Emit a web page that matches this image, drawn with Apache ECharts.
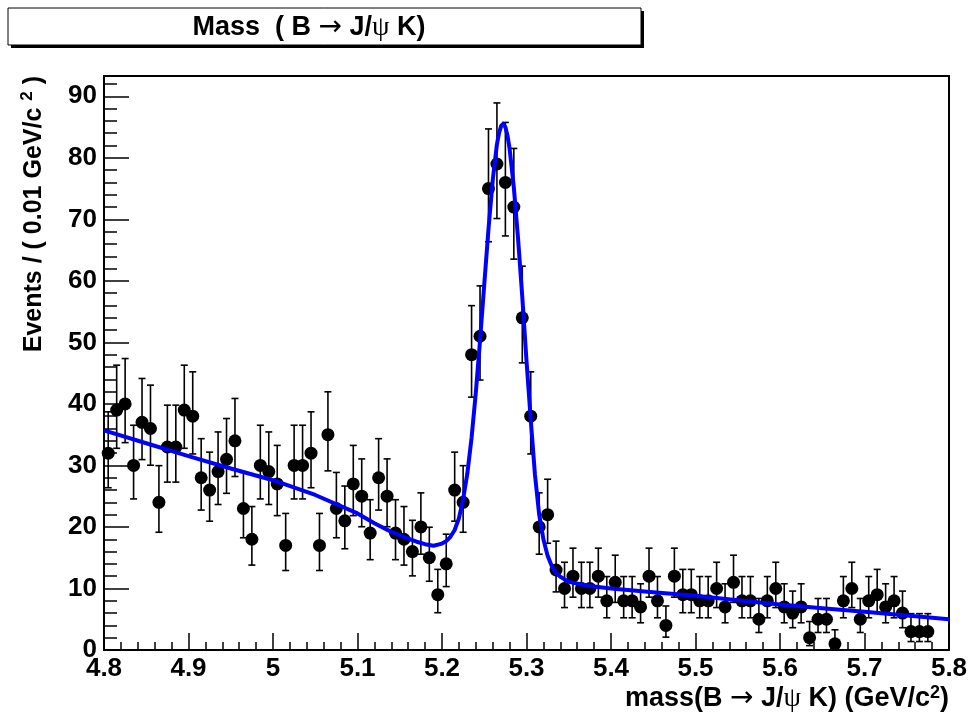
<!DOCTYPE html>
<html><head><meta charset="utf-8">
<script src="https://cdn.jsdelivr.net/npm/echarts@6/dist/echarts.min.js"></script>
<style>html,body{margin:0;padding:0;background:#fff}#c{width:971px;height:717px}</style>
</head><body><div id="c"></div>
<script>
// ---- data ----
const binLow = 4.80;
const binWidth = 0.01;
const counts = [32,39,40,30,37,36,24,33,33,39,
  38,28,26,29,31,34,23,18,30,29,
  27,17,30,30,32,17,35,23,21,27,
  25,19,28,25,19,18,16,20,15,9,
  14,26,24,48,51,75,79,76,72,54,
  38,20,22,13,10,12,10,10,12,8,
  11,8,8,7,12,8,4,12,9,9,
  8,8,10,7,11,8,8,5,8,10,
  7,6,7,2,5,5,1,8,10,5,
  8,9,7,8,6,3,3,3];
const curveMass = [4.80,4.85,4.90,4.95,5.00,5.05,5.10,5.12,5.14,5.16,5.17,5.18,5.19,5.20,5.205,5.21,5.215,5.22,5.225,5.23,5.235,5.24,5.245,5.25,5.255,5.26,5.265,5.2675,5.27,5.2725,5.275,5.2775,5.28,5.285,5.29,5.295,5.30,5.305,5.31,5.315,5.32,5.325,5.33,5.335,5.34,5.35,5.36,5.375,5.40,5.45,5.50,5.55,5.60,5.65,5.70,5.75,5.80];
const curveEvents = [35.7,33.6,31.5,29.5,27.6,25.2,22.2,20.6,19.2,18.1,17.6,17.2,16.95,17.3,17.7,18.4,19.5,21.4,24.5,28.7,34.5,41.8,50.3,59.4,68.4,76.3,82.2,84.0,85.2,85.5,85.0,83.6,81.5,75.2,66.9,57.4,47.0,37.5,28.5,22.0,18.0,15.3,13.6,12.5,11.9,11.1,10.8,10.4,10.0,9.4,8.8,8.1,7.4,6.8,6.2,5.6,5.0];
const xTickLabels = ['4.8','4.9','5','5.1','5.2','5.3','5.4','5.5','5.6','5.7','5.8'];
const yTickLabels = ['0','10','20','30','40','50','60','70','80','90'];

// ---- derived ----
const centers = counts.map((_, i) => +(binLow + binWidth * (i + 0.5)).toFixed(4));
function poisLo(n){ if(n<=0) return 0; return n*Math.pow(1-1/(9*n)-1/(3*Math.sqrt(n)),3); }
function poisHi(n){ const m=n+1; return m*Math.pow(1-1/(9*m)+1/(3*Math.sqrt(m)),3); }
const points = counts.map((n, i) => [centers[i], n]);
const errs = counts.map((n, i) => [centers[i], poisLo(n), poisHi(n)]);
const curve = curveMass.map((m, i) => [m, curveEvents[i]]);

const FONT = '"Liberation Sans", Arial, Helvetica, sans-serif';
const ARROWFONT = '"DejaVu Sans", sans-serif';
const chart = echarts.init(document.getElementById('c'), null, {renderer:'canvas'});
chart.setOption({
  animation: false,
  backgroundColor: '#fff',
  grid: {left:104, right:22, top:76, bottom:67, show:true, borderColor:'#000', borderWidth:2},
  xAxis: {
    type:'value', min:4.8, max:5.8, interval:0.1,
    axisLine:{lineStyle:{color:'#000', width:2}},
    axisTick:{inside:true, length:17, lineStyle:{color:'#000', width:1.5}},
    minorTick:{show:true, splitNumber:5, length:8, lineStyle:{color:'#000', width:1.5}},
    splitLine:{show:false}, minorSplitLine:{show:false},
    axisLabel:{color:'#000', fontSize:26, fontWeight:'bold', fontFamily:FONT, margin:6,
      formatter: v => xTickLabels[Math.round((v-4.8)/0.1)] ?? ''}
  },
  yAxis: {
    type:'value', min:0, max:93.3, interval:10,
    axisLine:{lineStyle:{color:'#000', width:2}},
    axisTick:{inside:true, length:25, lineStyle:{color:'#000', width:1.5}},
    minorTick:{show:true, splitNumber:5, length:13, lineStyle:{color:'#000', width:1.5}},
    splitLine:{show:false}, minorSplitLine:{show:false},
    axisLabel:{color:'#000', fontSize:26, fontWeight:'bold', fontFamily:FONT, margin:7, showMaxLabel:false,
      formatter: v => yTickLabels[Math.round(v/10)] ?? ''}
  },
  series: [
    {
      type:'custom', z:2, data: errs, clip:true,
      renderItem: (params, api) => {
        const x = api.value(0), lo = api.value(1), hi = api.value(2);
        const a = api.coord([x, lo]), b = api.coord([x, hi]);
        const c = 3.5;
        const st = {stroke:'#000', lineWidth:1.6};
        return {type:'group', children:[
          {type:'line', shape:{x1:a[0], y1:a[1], x2:b[0], y2:b[1]}, style:st},
          {type:'line', shape:{x1:a[0]-c, y1:a[1], x2:a[0]+c, y2:a[1]}, style:st},
          {type:'line', shape:{x1:b[0]-c, y1:b[1], x2:b[0]+c, y2:b[1]}, style:st}
        ]};
      }
    },
    {type:'scatter', z:3, data: points, symbol:'circle', symbolSize:13, itemStyle:{color:'#000', opacity:1}},
    {type:'line', z:4, data: curve, smooth:false, showSymbol:false,
      lineStyle:{color:'#0000ff', width:4, join:'round'}}
  ],
  graphic: [
    {type:'rect', shape:{x:11, y:11, width:633, height:37}, style:{fill:'#000'}, z:10},
    {type:'rect', shape:{x:8, y:8, width:633, height:37}, style:{fill:'#fff', stroke:'#000', lineWidth:1}, z:11},
    {type:'text', x:309, y:28, z:12, style:{
      text:'{b|Mass  ( B }{s|→}{b| J/}{g|ψ}{b| K)}', align:'center', verticalAlign:'middle',
      rich:{
        b:{fontSize:27, fontWeight:'bold', fontFamily:FONT, fill:'#000', lineHeight:32},
        s:{fontSize:28, fontFamily:ARROWFONT, fill:'#000', lineHeight:32},
        g:{fontSize:28, fontFamily:'"Liberation Serif", serif', fill:'#000', lineHeight:32}
      }}},
    {type:'text', x:949, y:699, z:12, style:{
      text:'{b|mass(B }{s|→}{b| J/}{g|ψ}{b| K) (GeV/c}{p|2}{b|)}', align:'right', verticalAlign:'middle',
      rich:{
        b:{fontSize:27, fontWeight:'bold', fontFamily:FONT, fill:'#000', lineHeight:30},
        s:{fontSize:28, fontFamily:ARROWFONT, fill:'#000', lineHeight:30},
        g:{fontSize:28, fontFamily:'"Liberation Serif", serif', fill:'#000', lineHeight:30},
        p:{fontSize:18, fontWeight:'bold', fontFamily:FONT, fill:'#000', verticalAlign:'top', lineHeight:18}
      }}},
    {type:'text', x:34, y:76, rotation:Math.PI/2, z:12, style:{
      text:'{b|Events / ( 0.01 GeV/c }{p|2}{b| )}', align:'right', verticalAlign:'middle',
      rich:{
        b:{fontSize:25, fontWeight:'bold', fontFamily:FONT, fill:'#000', lineHeight:30},
        p:{fontSize:17, fontWeight:'bold', fontFamily:FONT, fill:'#000', verticalAlign:'top', lineHeight:17}
      }}}
  ]
});
</script>
</body></html>
